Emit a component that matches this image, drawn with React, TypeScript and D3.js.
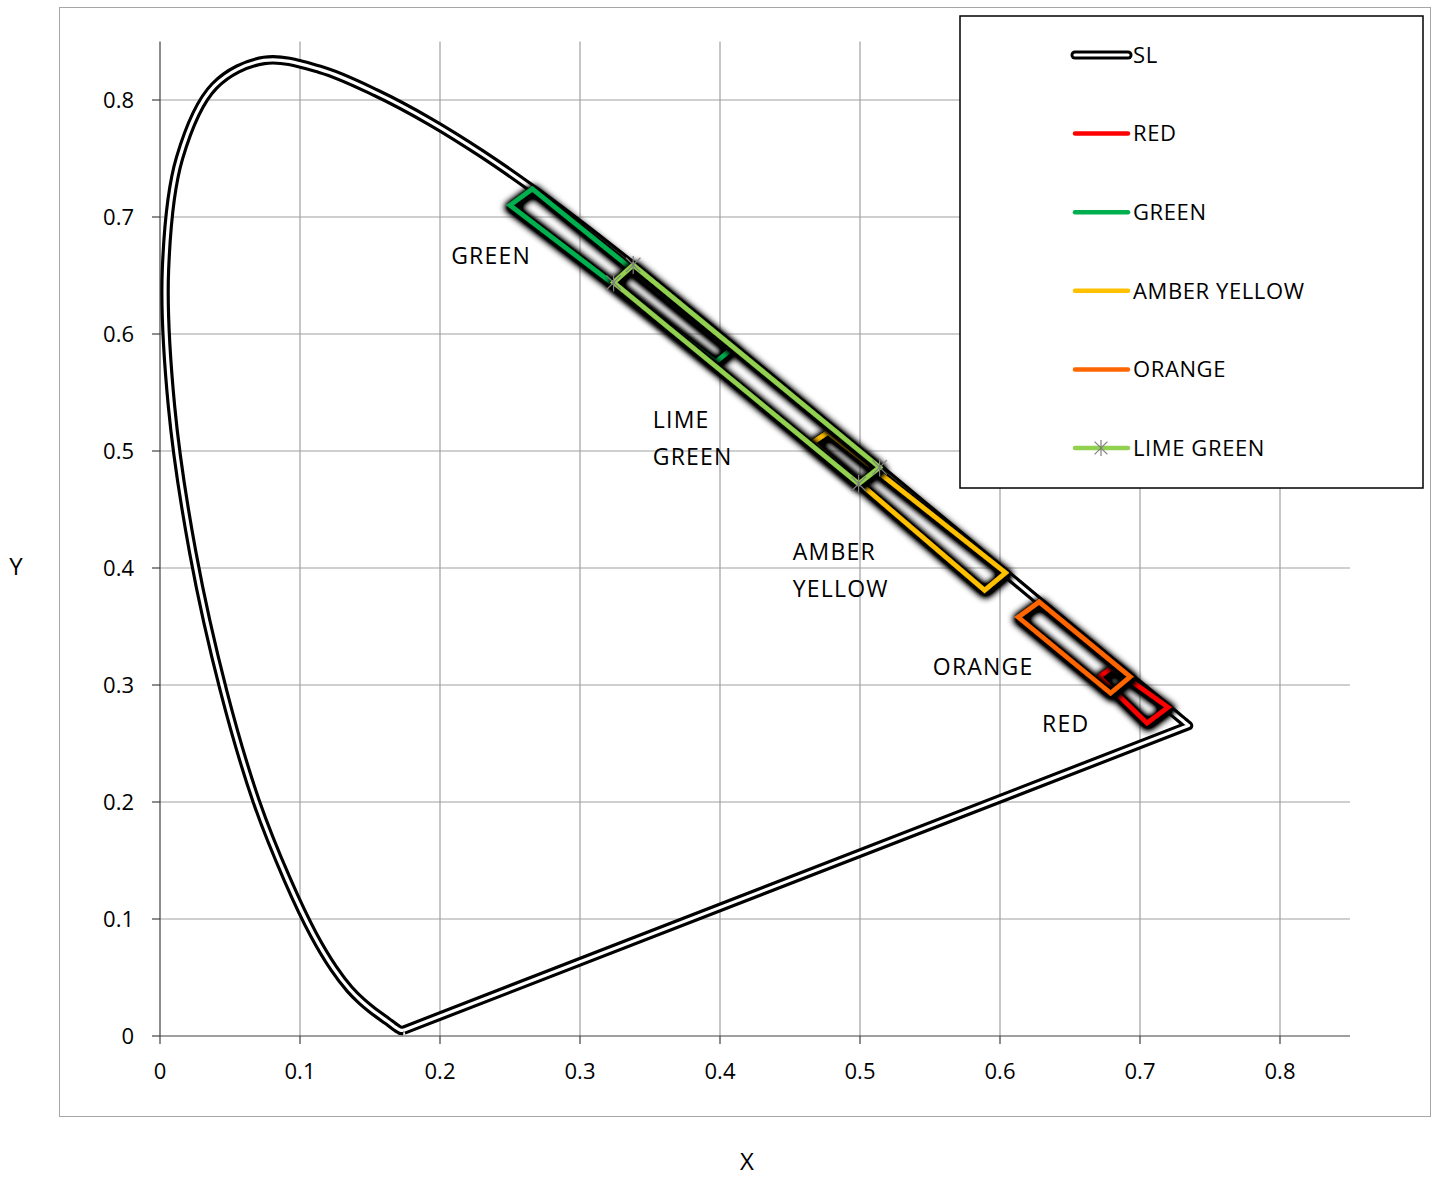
import React from "react";
import * as d3 from "d3";

// CIE 1931 spectral locus (380..700 nm, 5 nm steps)
const SL_X = [0.1741,0.1740,0.1738,0.1736,0.1733,0.1730,0.1726,0.1721,0.1714,0.1703,0.1689,0.1669,0.1644,0.1611,0.1566,0.1510,0.1440,0.1355,0.1241,0.1096,0.0913,0.0687,0.0454,0.0235,0.0082,0.0039,0.0139,0.0389,0.0743,0.1142,0.1547,0.1929,0.2296,0.2658,0.3016,0.3373,0.3731,0.4087,0.4441,0.4788,0.5125,0.5448,0.5752,0.6029,0.6270,0.6482,0.6658,0.6801,0.6915,0.7006,0.7079,0.7140,0.7190,0.7230,0.7260,0.7283,0.7300,0.7311,0.7320,0.7327,0.7334,0.7340,0.7344,0.7346,0.7347];
const SL_Y = [0.0050,0.0050,0.0049,0.0049,0.0048,0.0048,0.0048,0.0048,0.0051,0.0058,0.0069,0.0086,0.0109,0.0138,0.0177,0.0227,0.0297,0.0399,0.0578,0.0868,0.1327,0.2007,0.2950,0.4127,0.5384,0.6548,0.7502,0.8120,0.8338,0.8262,0.8059,0.7816,0.7543,0.7243,0.6923,0.6589,0.6245,0.5896,0.5547,0.5202,0.4866,0.4544,0.4242,0.3965,0.3725,0.3514,0.3340,0.3197,0.3083,0.2993,0.2920,0.2859,0.2809,0.2770,0.2740,0.2717,0.2700,0.2689,0.2680,0.2673,0.2666,0.2660,0.2656,0.2654,0.2653];

const RED = [[0.680,0.315],[0.720,0.281],[0.705,0.2675],[0.671,0.307]];
const GREEN = [[0.266,0.724],[0.408,0.587],[0.397,0.576],[0.250,0.710]];
const AMBER_YELLOW = [[0.477,0.516],[0.604,0.396],[0.589,0.381],[0.466,0.507]];
const ORANGE = [[0.628,0.371],[0.693,0.307],[0.679,0.293],[0.613,0.358]];
const LIME_GREEN = [[0.338,0.659],[0.514,0.486],[0.499,0.472],[0.324,0.644]];

const X_TICKS = [0, 0.1, 0.2, 0.3, 0.4, 0.5, 0.6, 0.7, 0.8];
const Y_TICKS = [0, 0.1, 0.2, 0.3, 0.4, 0.5, 0.6, 0.7, 0.8];

const SERIES_NAMES = ["RED", "GREEN", "AMBER YELLOW", "ORANGE", "LIME GREEN"];
const SERIES_COLORS = ["#FF0000", "#00B050", "#FFC000", "#FF6600", "#92D050"];
const SERIES_DATA = [RED, GREEN, AMBER_YELLOW, ORANGE, LIME_GREEN];

const LABELS = [
  { lines: ["GREEN"], x: 0.208, y: 0.6667 },
  { lines: ["LIME", "GREEN"], x: 0.352, y: 0.5265 },
  { lines: ["AMBER", "YELLOW"], x: 0.452, y: 0.4137 },
  { lines: ["ORANGE"], x: 0.552, y: 0.3154 },
  { lines: ["RED"], x: 0.630, y: 0.2667 },
];

const FONT = "'Open Sans', 'Noto Sans', sans-serif";

function Asterisk({ cx, cy, r }: { cx: number; cy: number; r: number }) {
  const d = r * 0.8;
  return (
    <g stroke="#7F7F7F" strokeWidth={1.2}>
      <line x1={cx} y1={cy - r} x2={cx} y2={cy + r} />
      <line x1={cx - d} y1={cy - d} x2={cx + d} y2={cy + d} />
      <line x1={cx - d} y1={cy + d} x2={cx + d} y2={cy - d} />
    </g>
  );
}

export default function App() {
  const W = 1437, H = 1178;
  const x = d3.scaleLinear().domain([0, 0.85]).range([160, 1350]);
  const y = d3.scaleLinear().domain([0, 0.85]).range([1036, 1036 - 0.85 * 1170]);

  const slPts: [number, number][] = SL_X.map((v, i) => [x(v), y(SL_Y[i])]);
  const slPath = d3.line().curve(d3.curveCatmullRom.alpha(0.5))(slPts) + ` L${slPts[0][0]},${slPts[0][1]}`;
  const poly = (pts: number[][]) =>
    d3.line().curve(d3.curveLinearClosed)(pts.map((p) => [x(p[0]), y(p[1])] as [number, number])) || "";

  const legendYs = [55, 133.6, 212.2, 290.8, 369.4, 448];

  return (
    <svg width={W} height={H} style={{ position: "absolute", left: 0, top: 0, background: "#fff" }} fontFamily={FONT}>
      <defs>
        <filter id="glow" filterUnits="userSpaceOnUse" x={0} y={0} width={W} height={H}>
          <feMorphology in="SourceAlpha" operator="dilate" radius={2} result="d" />
          <feGaussianBlur in="d" stdDeviation={3.5} result="b" />
          <feOffset in="b" dx={1} dy={1.5} result="o" />
          <feComponentTransfer in="o" result="s">
            <feFuncA type="linear" slope={1.8} />
          </feComponentTransfer>
          <feMerge>
            <feMergeNode in="s" />
            <feMergeNode in="SourceGraphic" />
          </feMerge>
        </filter>
      </defs>
      <rect x={0} y={0} width={W} height={H} fill="#fff" />
      <rect x={59.5} y={7.5} width={1371} height={1109} fill="none" stroke="#A6A6A6" strokeWidth={1} />

      {/* grid */}
      {X_TICKS.filter((t) => t > 0).map((t) => (
        <line key={"gx" + t} x1={x(t)} x2={x(t)} y1={y(0.85)} y2={y(0)} stroke="#A0A0A0" strokeWidth={1.2} />
      ))}
      {Y_TICKS.filter((t) => t > 0).map((t) => (
        <line key={"gy" + t} x1={x(0)} x2={x(0.85)} y1={y(t)} y2={y(t)} stroke="#A0A0A0" strokeWidth={1.2} />
      ))}
      {/* axes */}
      <line x1={x(0)} x2={x(0)} y1={y(0.85)} y2={y(0)} stroke="#404040" strokeWidth={1.2} />
      <line x1={x(0)} x2={x(0.85)} y1={y(0)} y2={y(0)} stroke="#404040" strokeWidth={1.2} />
      {Y_TICKS.map((t) => (
        <g key={"ty" + t}>
          <line x1={x(0) - 8} x2={x(0)} y1={y(t)} y2={y(t)} stroke="#404040" strokeWidth={1.2} />
          <text x={134} y={y(t)} dy="0.35em" textAnchor="end" fontSize={22} fill="#000">{t === 0 ? "0" : String(t)}</text>
        </g>
      ))}
      {X_TICKS.map((t) => (
        <g key={"tx" + t}>
          <line x1={x(t)} x2={x(t)} y1={y(0)} y2={y(0) + 8} stroke="#404040" strokeWidth={1.2} />
          <text x={x(t)} y={1071} dy="0.35em" textAnchor="middle" fontSize={22} fill="#000">{t === 0 ? "0" : String(t)}</text>
        </g>
      ))}
      <text x={16} y={567} dy="0.35em" textAnchor="middle" fontSize={24}>Y</text>
      <text x={747} y={1162} dy="0.35em" textAnchor="middle" fontSize={24}>X</text>

      {/* spectral locus */}
      <path d={slPath} fill="none" stroke="#000" strokeWidth={9.5} strokeLinejoin="round" />
      <path d={slPath} fill="none" stroke="#fff" strokeWidth={3.2} strokeLinejoin="round" />

      {/* color regions */}
      {SERIES_DATA.map((pts, i) => (
        <g key={SERIES_NAMES[i]} filter="url(#glow)">
          <path d={poly(pts)} fill="none" stroke={SERIES_COLORS[i]} strokeWidth={4.5} strokeLinejoin="miter" />
        </g>
      ))}
      {LIME_GREEN.map((p, i) => (
        <Asterisk key={"m" + i} cx={x(p[0])} cy={y(p[1])} r={9} />
      ))}

      {/* annotations */}
      {LABELS.map((l, i) => (
        <text key={"lab" + i} x={x(l.x)} y={y(l.y)} fontSize={23} letterSpacing={1.2} fill="#000">
          {l.lines.map((s, j) => (
            <tspan key={j} x={x(l.x)} dy={j === 0 ? "0.35em" : 37}>{s}</tspan>
          ))}
        </text>
      ))}

      {/* legend */}
      <rect x={960} y={16} width={463} height={472} fill="#fff" stroke="#000" strokeWidth={1.5} />
      <g>
        <line x1={1075} x2={1128} y1={legendYs[0]} y2={legendYs[0]} stroke="#000" strokeWidth={9} strokeLinecap="round" />
        <line x1={1075} x2={1128} y1={legendYs[0]} y2={legendYs[0]} stroke="#fff" strokeWidth={3.2} strokeLinecap="round" />
        <text x={1133} y={legendYs[0]} dy="0.35em" fontSize={22} letterSpacing={0.6}>SL</text>
      </g>
      {SERIES_NAMES.map((n, i) => (
        <g key={"lg" + n}>
          <line x1={1075} x2={1128} y1={legendYs[i + 1]} y2={legendYs[i + 1]} stroke={SERIES_COLORS[i]} strokeWidth={4.5} strokeLinecap="round" />
          {n === "LIME GREEN" && <Asterisk cx={1101} cy={legendYs[i + 1]} r={8} />}
          <text x={1133} y={legendYs[i + 1]} dy="0.35em" fontSize={22} letterSpacing={0.6}>{n}</text>
        </g>
      ))}
    </svg>
  );
}
